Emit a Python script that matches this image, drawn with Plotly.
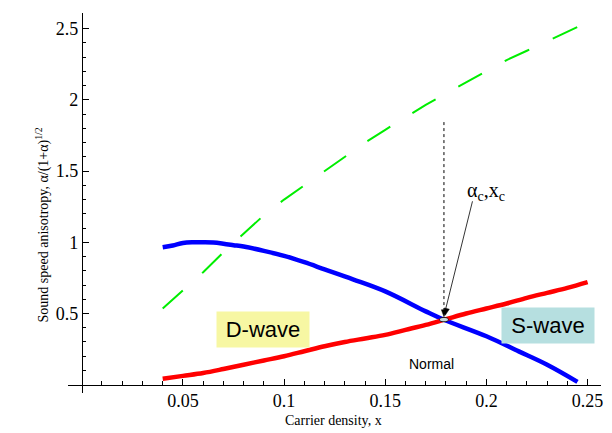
import math
import plotly.graph_objects as go

# ---- data ----
blue_x = [0.040, 0.045, 0.050, 0.055, 0.060, 0.065, 0.070, 0.075, 0.080, 0.090, 0.100,
          0.110, 0.120, 0.134, 0.150, 0.170, 0.179, 0.200, 0.216, 0.230, 0.245]
blue_y = [0.965, 0.978, 0.995, 1.000, 1.000, 0.998, 0.990, 0.980, 0.970, 0.940, 0.905,
          0.860, 0.810, 0.740, 0.655, 0.515, 0.456, 0.340, 0.234, 0.140, 0.020]

red_x = [0.04, 0.05, 0.06, 0.07, 0.08, 0.09, 0.10, 0.11, 0.12, 0.13, 0.14, 0.15,
         0.16, 0.17, 0.18, 0.19, 0.20, 0.21, 0.22, 0.23, 0.24, 0.25]
red_y = [0.042, 0.062, 0.082, 0.110, 0.140, 0.170, 0.200, 0.235, 0.270, 0.300, 0.325, 0.350,
         0.385, 0.420, 0.460, 0.500, 0.535, 0.570, 0.610, 0.645, 0.680, 0.720]

green_x = [0.04, 0.05, 0.06, 0.07, 0.08, 0.09, 0.10, 0.11, 0.12, 0.13, 0.14, 0.15,
           0.16, 0.17, 0.18, 0.19, 0.20, 0.21, 0.22, 0.23, 0.24, 0.25]
green_y = [0.535, 0.66, 0.79, 0.93, 1.06, 1.19, 1.30, 1.40, 1.50, 1.60, 1.70, 1.79,
           1.88, 1.965, 2.045, 2.125, 2.20, 2.28, 2.345, 2.41, 2.48, 2.545]

x_ticks = [0.05, 0.1, 0.15, 0.2, 0.25]
x_tick_text = ["0.05", "0.1", "0.15", "0.2", "0.25"]
y_ticks = [0.5, 1, 1.5, 2, 2.5]
y_tick_text = ["0.5", "1", "1.5", "2", "2.5"]
x_minor = [i / 100 for i in range(0, 26) if i % 5 != 0]
y_minor = [i / 10 for i in range(0, 26) if i % 5 != 0]

crit_x = 0.179
crit_y = 0.457
label_tail = (0.1931, 1.288)
dotted_top = 1.86

W, H = 612, 433
serif = "Liberation Serif, Times New Roman, serif"
sans = "Liberation Sans, Arial, sans-serif"

# axis geometry (pixels)
x_left_px, x_right_px = 60, 595
y_top_px, y_bot_px = 5, 385
origin_x_px, origin_y_px = 74, 376.7
px_per_x = 2030.0
px_per_y = 142.4
x_range = [(x_left_px - origin_x_px) / px_per_x, (x_right_px - origin_x_px) / px_per_x]
y_range = [(origin_y_px - y_bot_px) / px_per_y, (origin_y_px - y_top_px) / px_per_y]


def arrowhead(tip, tail, length=7.0, half_w=2.6):
    """triangle path (data coords) with its tip at `tip`, pointing away from `tail`"""
    tx, ty = tip[0] * px_per_x, -tip[1] * px_per_y
    sx, sy = tail[0] * px_per_x, -tail[1] * px_per_y
    d = math.hypot(tx - sx, ty - sy)
    ux, uy = (tx - sx) / d, (ty - sy) / d
    bx, by = tx - ux * length, ty - uy * length
    p1 = (bx - uy * half_w, by + ux * half_w)
    p2 = (bx + uy * half_w, by - ux * half_w)
    pts = [(tx, ty), p1, p2]
    s = "M " + " L ".join(f"{px / px_per_x:.6f},{-py / px_per_y:.6f}" for px, py in pts) + " Z"
    return s


fig = go.Figure()
fig.add_trace(go.Scatter(x=green_x, y=green_y, mode="lines",
                         line=dict(color="#00ee00", width=2, dash="27px,26px"),
                         hoverinfo="skip"))
fig.add_trace(go.Scatter(x=blue_x, y=blue_y, mode="lines", line_shape="spline",
                         line=dict(color="#0000ff", width=4.5), hoverinfo="skip"))
fig.add_trace(go.Scatter(x=red_x, y=red_y, mode="lines", line_shape="spline",
                         line=dict(color="#ff0000", width=4.5), hoverinfo="skip"))

common = dict(showgrid=False, zeroline=False, linecolor="black", linewidth=1,
              ticks="inside", tickcolor="black", tickwidth=1)

fig.update_layout(
    width=W, height=H,
    margin=dict(l=0, r=0, t=0, b=0),
    paper_bgcolor="white", plot_bgcolor="white",
    showlegend=False,
    xaxis=dict(
        domain=[x_left_px / W, x_right_px / W], range=x_range,
        anchor="free", position=(H - origin_y_px) / H, showline=True,
        tickmode="array", tickvals=x_ticks, ticktext=x_tick_text, ticklen=6,
        tickfont=dict(family=serif, size=18, color="black"), **common),
    xaxis2=dict(
        domain=[x_left_px / W, x_right_px / W], range=x_range, overlaying="x",
        anchor="free", position=(H - origin_y_px) / H, showline=False,
        tickmode="array", tickvals=x_minor, showticklabels=False, ticklen=3.5, **common),
    yaxis=dict(
        domain=[(H - y_bot_px) / H, (H - y_top_px) / H], range=y_range,
        anchor="free", position=origin_x_px / W, showline=True,
        tickmode="array", tickvals=y_ticks, ticktext=y_tick_text, ticklen=6,
        tickfont=dict(family=serif, size=18, color="black"), **common),
    yaxis2=dict(
        domain=[(H - y_bot_px) / H, (H - y_top_px) / H], range=y_range, overlaying="y",
        anchor="free", position=origin_x_px / W, showline=False,
        tickmode="array", tickvals=y_minor, showticklabels=False, ticklen=3.5, **common),
)
# invisible traces to activate the minor-tick axes
fig.add_trace(go.Scatter(x=[None], y=[None], xaxis="x2", yaxis="y2", hoverinfo="skip"))

# dotted vertical line with arrowhead
fig.add_shape(type="line", x0=crit_x, x1=crit_x, y0=crit_y + 0.06, y1=dotted_top,
              line=dict(color="black", width=1, dash="dot"))
fig.add_shape(type="path", path=arrowhead((crit_x, crit_y + 0.02), (crit_x, dotted_top)),
              fillcolor="black", line=dict(color="black", width=0.5))
# arrow from label to crossing
tip = (crit_x + 0.0006, crit_y + 0.03)
fig.add_shape(type="line", x0=label_tail[0], y0=label_tail[1], x1=tip[0], y1=tip[1] + 0.03,
              line=dict(color="black", width=0.8))
fig.add_shape(type="path", path=arrowhead(tip, label_tail),
              fillcolor="black", line=dict(color="black", width=0.5))
# small ellipse at the crossing
fig.add_shape(type="circle", x0=crit_x - 0.0022, x1=crit_x + 0.0022,
              y0=crit_y - 0.015, y1=crit_y + 0.015,
              line=dict(color="black", width=0.8), fillcolor="#c6dbe4")

fig.add_annotation(x=0.2, y=1.36, xref="x", yref="y", text="α<sub>c</sub>,x<sub>c</sub>",
                   showarrow=False, font=dict(family=serif, size=20, color="black"))
fig.add_annotation(x=0.0897, y=0.391, xref="x", yref="y", text="D-wave", showarrow=False,
                   bgcolor="#f7f7a3", width=92, height=35, borderpad=0,
                   font=dict(family=sans, size=22, color="black"))
fig.add_annotation(x=0.2303, y=0.414, xref="x", yref="y", text="S-wave", showarrow=False,
                   bgcolor="#b6dfe0", width=92, height=35, borderpad=0,
                   font=dict(family=sans, size=22, color="black"))
fig.add_annotation(x=0.1727, y=0.145, xref="x", yref="y", text="Normal", showarrow=False,
                   font=dict(family=sans, size=14, color="black"))

# axis titles
fig.add_annotation(x=327 / W, y=(H - 422) / H, xref="paper", yref="paper",
                   text="Carrier density, x", showarrow=False,
                   font=dict(family=serif, size=14, color="black"))
fig.add_annotation(x=24 / W, y=(H - 217) / H, xref="paper", yref="paper", textangle=-90,
                   text="Sound speed anisotropy, α/(1+α)<sup>1/2</sup>", showarrow=False,
                   font=dict(family=serif, size=14, color="black"))

fig.write_html("out.html")
